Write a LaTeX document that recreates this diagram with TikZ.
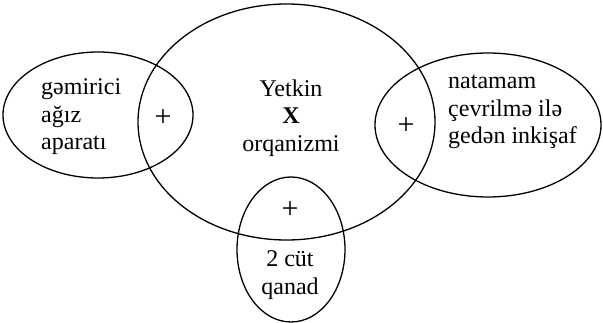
\documentclass[tikz,border=0pt]{standalone}
\usepackage{fontspec}
\setmainfont{Liberation Serif}
\usetikzlibrary{shapes.geometric}
\begin{document}
\begin{tikzpicture}[x=1pt,y=-1pt,
  oval/.style={draw,line width=1.3pt,ellipse,inner sep=0pt},
  lbl/.style={font=\fontsize{24}{27.5}\selectfont,inner sep=0pt},
  plus/.style={font=\fontsize{30}{30}\selectfont,inner sep=0pt}]
\useasboundingbox (0,0) rectangle (603,323);
\node[oval,minimum width=297pt,minimum height=236pt] (main) at (286.5,122) {};
\node[oval,minimum width=190pt,minimum height=126pt] (left) at (98,115) {};
\node[oval,minimum width=226pt,minimum height=144pt] (right) at (488,125) {};
\node[oval,minimum width=108pt,minimum height=145pt] (bottom) at (291,249.5) {};
\node[lbl,align=left,anchor=west] (ltext) at (41,117) {gəmirici\\ağız\\aparatı};
\node[lbl,align=center] (mtext) at (291,118) {Yetkin\\\textbf{X}\\orqanizmi};
\node[lbl,align=left,anchor=west] (rtext) at (448,112) {natamam\\çevrilmə ilə\\gedən inkişaf};
\node[lbl,align=center] (btext) at (290,275) {2 cüt\\qanad};
\node[plus] (p1) at (163,118) {+};
\node[plus] (p2) at (406,126) {+};
\node[plus] (p3) at (290,210) {+};
\end{tikzpicture}
\end{document}
